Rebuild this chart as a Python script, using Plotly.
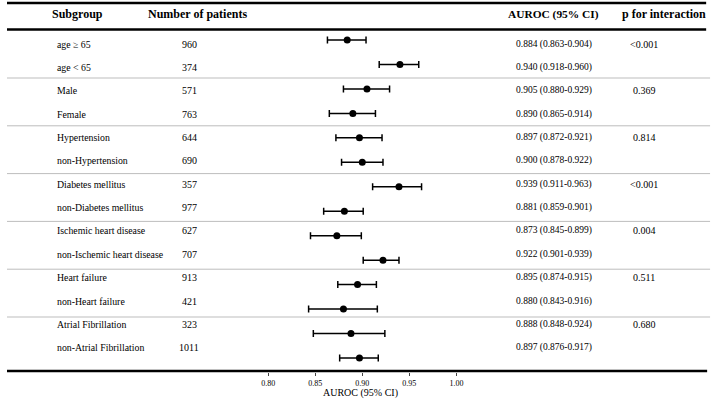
import plotly.graph_objects as go

# ---------------- data ----------------
subgroups = ["age ≥ 65", "age < 65", "Male", "Female", "Hypertension", "non-Hypertension",
             "Diabetes mellitus", "non-Diabetes mellitus", "Ischemic heart disease",
             "non-Ischemic heart disease", "Heart failure", "non-Heart failure",
             "Atrial Fibrillation", "non-Atrial Fibrillation"]
n_patients = [960, 374, 571, 763, 644, 690, 357, 977, 627, 707, 913, 421, 323, 1011]
auroc = [0.884, 0.940, 0.905, 0.890, 0.897, 0.900, 0.939, 0.881, 0.873, 0.922, 0.895, 0.880, 0.888, 0.897]
ci_low = [0.863, 0.918, 0.880, 0.865, 0.872, 0.878, 0.911, 0.859, 0.845, 0.901, 0.874, 0.843, 0.848, 0.876]
ci_high = [0.904, 0.960, 0.929, 0.914, 0.921, 0.922, 0.963, 0.901, 0.899, 0.939, 0.915, 0.916, 0.924, 0.917]
p_interaction = ["<0.001", "", "0.369", "", "0.814", "", "<0.001", "", "0.004", "", "0.511", "", "0.680", ""]
headers = ["Subgroup", "Number of patients", "AUROC (95% CI)", "p for interaction"]
x_ticks = [0.80, 0.85, 0.90, 0.95, 1.00]
x_tick_labels = ["0.80", "0.85", "0.90", "0.95", "1.00"]
x_title = "AUROC (95% CI)"

# ---------------- layout constants (pixels) ----------------
W, H = 721, 401
FONT = "Liberation Serif"
plot_bottom_px = 372
mark_y0, mark_step = 40.0, 24.46      # pixel centre of marker rows
text_y0, text_step = 44.15, 23.35     # pixel centre of table text rows
sep_y0, sep_step = 78.0, 47.8         # thin separators

def py(p):
    return 1 - p / H

def px(p):
    return p / W

rows = list(range(len(subgroups)))
ymark_range = [(plot_bottom_px - mark_y0) / mark_step, -mark_y0 / mark_step]
ytext_range = [(plot_bottom_px - text_y0) / text_step, -text_y0 / text_step]

fig = go.Figure()
fig.add_trace(go.Scatter(
    x=auroc, y=rows, mode="markers",
    marker=dict(symbol="circle", size=7, color="black"),
    error_x=dict(type="data", symmetric=False,
                 array=[h - a for h, a in zip(ci_high, auroc)],
                 arrayminus=[a - l for a, l in zip(auroc, ci_low)],
                 color="black", thickness=1.5, width=3.5),
    showlegend=False, hoverinfo="skip", cliponaxis=False,
))

ann = []
# header
for txt, cx, fs in zip(headers, [72, 194, 557, 670], [12, 12, 11.4, 12]):
    ann.append(dict(x=px(cx), y=py(14), xref="paper", yref="paper", text=txt,
                    showarrow=False, xanchor="center", yanchor="middle",
                    font=dict(family=FONT, size=fs, color="black", weight=700)))
# table rows
for i in rows:
    ann.append(dict(x=px(49), y=i, xref="paper", yref="y2", text=subgroups[i], showarrow=False,
                    xanchor="left", yanchor="middle", font=dict(family=FONT, size=9.8, color="black")))
    ann.append(dict(x=px(186), y=i, xref="paper", yref="y2", text=str(n_patients[i]), showarrow=False,
                    xanchor="center", yanchor="middle", font=dict(family=FONT, size=10, color="black")))
    ann.append(dict(x=px(558), y=i, xref="paper", yref="y2",
                    text=f"{auroc[i]:.3f} ({ci_low[i]:.3f}-{ci_high[i]:.3f})", showarrow=False,
                    xanchor="center", yanchor="middle", font=dict(family=FONT, size=9.5, color="black")))
    if p_interaction[i]:
        ann.append(dict(x=px(650), y=i, xref="paper", yref="y2", text=p_interaction[i].replace("<", "&lt;"),
                        showarrow=False, xanchor="center", yanchor="middle",
                        font=dict(family=FONT, size=10, color="black")))
# axis title
ann.append(dict(x=px(361), y=py(393), xref="paper", yref="paper", text=x_title, showarrow=False,
                xanchor="center", yanchor="middle", font=dict(family=FONT, size=10, color="black")))

shapes = []
for k in range(6):
    yy = py(sep_y0 + sep_step * k)
    shapes.append(dict(type="line", xref="paper", yref="paper", x0=0, x1=px(717), y0=yy, y1=yy,
                       line=dict(color="#bdbdbd", width=1)))
for ypix, xend in [(3, 713), (29.5, 713), (371, 714)]:
    shapes.append(dict(type="line", xref="paper", yref="paper", x0=0, x1=px(xend), y0=py(ypix), y1=py(ypix),
                       line=dict(color="black", width=2.6)))

fig.update_layout(
    width=W, height=H, margin=dict(l=0, r=0, t=0, b=0),
    paper_bgcolor="white", plot_bgcolor="white",
    font=dict(family=FONT, color="black"),
    annotations=ann, shapes=shapes,
    xaxis=dict(domain=[px(266.3), px(458.3)], range=[0.80, 1.00], tickvals=x_ticks, ticktext=x_tick_labels,
               ticks="outside", ticklen=3, tickwidth=0.8, tickcolor="#444",
               showline=False, showgrid=False, zeroline=False,
               tickfont=dict(family=FONT, size=8, color="black")),
    yaxis=dict(domain=[py(plot_bottom_px), 1], range=ymark_range, visible=False, fixedrange=True),
    yaxis2=dict(domain=[py(plot_bottom_px), 1], range=ytext_range, overlaying="y", visible=False),
)
fig.write_html("out.html", config={"displayModeBar": False},
               post_script="document.body.style.margin='0';document.body.style.overflow='hidden';")
